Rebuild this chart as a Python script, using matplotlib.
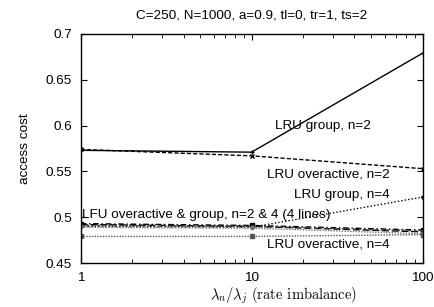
import matplotlib
matplotlib.use("Agg")
import matplotlib.pyplot as plt

x = [1, 10, 100]
lru_group_n2 = [0.573, 0.571, 0.679]
lru_over_n2 = [0.574, 0.567, 0.553]
lru_group_n4 = [0.490, 0.489, 0.522]
lru_over_n4 = [0.479, 0.479, 0.481]
lfu_over_n2 = [0.493, 0.491, 0.486]
lfu_group_n2 = [0.492, 0.490, 0.484]
lfu_over_n4 = [0.491, 0.490, 0.485]
lfu_group_n4 = [0.489, 0.488, 0.482]

plt.rcParams['font.family'] = ['Liberation Sans', 'DejaVu Sans']
plt.rcParams['mathtext.fontset'] = 'cm'
FS = 9.7

W, H = 435, 307
L, R, T, B = 80.7, 422.5, 34, 263
fig = plt.figure(figsize=(W / 100, H / 100), dpi=100)
ax = fig.add_axes([L / W, 1 - B / H, (R - L) / W, (B - T) / H])

ax.plot(x, lru_group_n2, color='black', lw=1.0, ls='-', marker='+', ms=3)
ax.plot(x, lru_over_n2, color='black', lw=1.0, ls=(0, (3, 1.5)), marker='x', ms=3)
ax.plot(x, lru_group_n4, color='black', lw=1.0, ls=(0, (1, 1.5)), marker='*', ms=3)
ax.plot(x, lru_over_n4, color='#555555', lw=1.0, ls=(0, (1, 1)), marker='s', ms=2.5)
ax.plot(x, lfu_over_n2, color='black', lw=1.0, ls=(0, (4, 2, 1, 2)), marker='s', ms=2.5)
ax.plot(x, lfu_group_n2, color='black', lw=1.0, ls=(0, (5, 2)), marker='o', ms=2.5)
ax.plot(x, lfu_over_n4, color='#444444', lw=1.0, ls=(0, (2, 2)), marker='^', ms=2.5)
ax.plot(x, lfu_group_n4, color='#777777', lw=1.0, ls=(0, (1, 1)), marker='v', ms=2.5)

ax.set_xscale('log')
ax.set_xlim(1, 100)
ax.set_ylim(0.45, 0.7)
ax.set_xticks([1, 10, 100])
ax.set_xticklabels(['1', '10', '100'])
ax.set_yticks([0.45, 0.5, 0.55, 0.6, 0.65, 0.7])
ax.set_yticklabels(['0.45', '0.5', '0.55', '0.6', '0.65', '0.7'])
ax.tick_params(axis='both', which='both', direction='in', top=True, right=True, labelsize=FS)
ax.tick_params(axis='x', which='major', pad=6.5)
ax.tick_params(axis='y', which='major', pad=6.3)
ax.tick_params(which='major', length=4)
ax.tick_params(which='minor', length=2.7)
for s in ax.spines.values():
    s.set_linewidth(1.0)

fig.text(((L + R) / 2) / W, 1 - 15 / H, 'C=250, N=1000, a=0.9, tl=0, tr=1, ts=2',
         fontsize=FS, ha='center', va='center')

ax.set_ylabel('access cost', fontsize=FS)
ax.yaxis.set_label_coords((25 - L) / (R - L), 0.5)
ax.yaxis.label.set_va('center')

ax.set_xlabel(r'$\lambda_n/\lambda_j$ (rate imbalance)', fontsize=10.5,
              family=['cmr10', 'DejaVu Serif'])
ax.xaxis.set_label_coords((284 - L) / (R - L), -(296 - B) / (B - T))
ax.xaxis.label.set_va('center')

ax.text(10**1.70, 0.600, 'LRU group, n=2', fontsize=FS, ha='right', va='center')
ax.text(10**1.81, 0.547, 'LRU overactive, n=2', fontsize=FS, ha='right', va='center')
ax.text(10**1.81, 0.524, 'LRU group, n=4', fontsize=FS, ha='right', va='center')
ax.text(1.02, 0.502, 'LFU overactive & group, n=2 & 4 (4 lines)', fontsize=FS,
        ha='left', va='center')
ax.text(10**1.81, 0.470, 'LRU overactive, n=4', fontsize=FS, ha='right', va='center')

fig.savefig('out.png', dpi=100)
